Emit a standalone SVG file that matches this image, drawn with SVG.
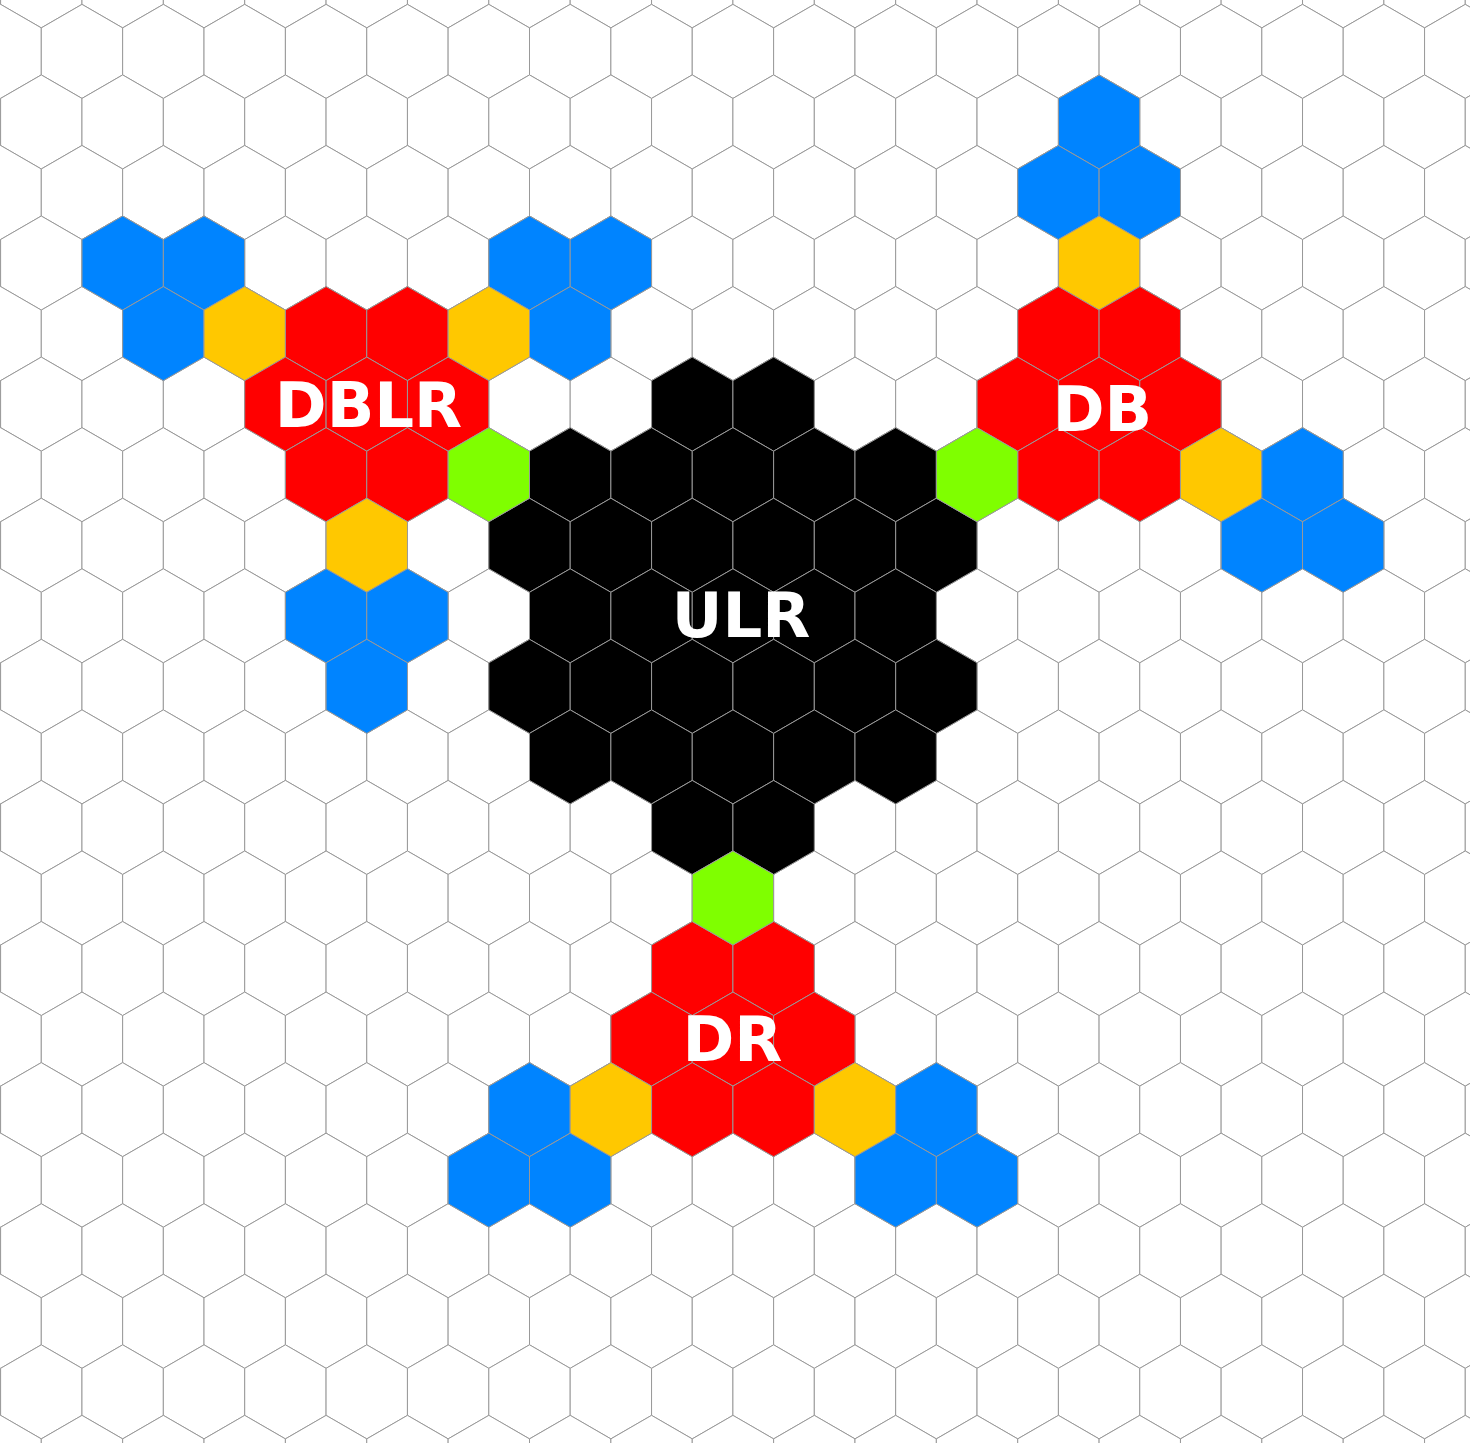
<svg xmlns="http://www.w3.org/2000/svg" xmlns:xlink="http://www.w3.org/1999/xlink" width="1470" height="1443" viewBox="0 0 1470 1443">
<style>
.grid{fill:#ffffff}
use,polygon{stroke:#999999;stroke-width:1}
.bl{fill:#0084ff}
.rd{fill:#ff0000}
.yl{fill:#ffc800}
.gr{fill:#7fff00}
.bk{fill:#000000}
.lbl{font-family:"DejaVu Sans","Liberation Sans",sans-serif;font-weight:bold;font-size:62.5px;fill:#ffffff;text-anchor:middle}
</style>
<defs>
<polygon id="h" points="0,-47.03 40.685,-23.515 40.685,23.515 0,47.03 -40.685,23.515 -40.685,-23.515"/>
<g id="row">
<use href="#h" x="0"/><use href="#h" x="81.37"/><use href="#h" x="162.74"/><use href="#h" x="244.11"/><use href="#h" x="325.48"/><use href="#h" x="406.85"/><use href="#h" x="488.22"/><use href="#h" x="569.59"/><use href="#h" x="650.96"/><use href="#h" x="732.33"/><use href="#h" x="813.7"/><use href="#h" x="895.07"/><use href="#h" x="976.44"/><use href="#h" x="1057.81"/><use href="#h" x="1139.18"/><use href="#h" x="1220.55"/><use href="#h" x="1301.92"/><use href="#h" x="1383.29"/><use href="#h" x="1464.66"/><use href="#h" x="1546.03"/>
</g>
</defs>
<rect width="1470" height="1443" fill="#ffffff"/>
<g id="grid" class="grid">
<use href="#row" transform="translate(-40.085,-19.15)"/>
<use href="#row" transform="translate(0.6,51.4)"/>
<use href="#row" transform="translate(-40.085,121.95)"/>
<use href="#row" transform="translate(0.6,192.5)"/>
<use href="#row" transform="translate(-40.085,263.05)"/>
<use href="#row" transform="translate(0.6,333.6)"/>
<use href="#row" transform="translate(-40.085,404.15)"/>
<use href="#row" transform="translate(0.6,474.7)"/>
<use href="#row" transform="translate(-40.085,545.25)"/>
<use href="#row" transform="translate(0.6,615.8)"/>
<use href="#row" transform="translate(-40.085,686.35)"/>
<use href="#row" transform="translate(0.6,756.9)"/>
<use href="#row" transform="translate(-40.085,827.45)"/>
<use href="#row" transform="translate(0.6,898)"/>
<use href="#row" transform="translate(-40.085,968.55)"/>
<use href="#row" transform="translate(0.6,1039.1)"/>
<use href="#row" transform="translate(-40.085,1109.65)"/>
<use href="#row" transform="translate(0.6,1180.2)"/>
<use href="#row" transform="translate(-40.085,1250.75)"/>
<use href="#row" transform="translate(0.6,1321.3)"/>
<use href="#row" transform="translate(-40.085,1391.85)"/>
<use href="#row" transform="translate(0.6,1462.4)"/>
</g>
<g id="DBLR">
<use href="#h" class="bl" x="122.66" y="263.05"/><use href="#h" class="bl" x="204.03" y="263.05"/>
<use href="#h" class="bl" x="529.51" y="263.05"/><use href="#h" class="bl" x="610.88" y="263.05"/>
<use href="#h" class="bl" x="163.34" y="333.6"/><use href="#h" class="yl" x="244.71" y="333.6"/>
<use href="#h" class="rd" x="326.08" y="333.6"/><use href="#h" class="rd" x="407.45" y="333.6"/>
<use href="#h" class="yl" x="488.82" y="333.6"/><use href="#h" class="bl" x="570.19" y="333.6"/>
<use href="#h" class="rd" x="285.4" y="404.15"/><use href="#h" class="rd" x="366.77" y="404.15"/><use href="#h" class="rd" x="448.14" y="404.15"/>
<use href="#h" class="rd" x="326.08" y="474.7"/><use href="#h" class="rd" x="407.45" y="474.7"/>
<use href="#h" class="yl" x="366.77" y="545.25"/>
<use href="#h" class="bl" x="326.08" y="615.8"/><use href="#h" class="bl" x="407.45" y="615.8"/>
<use href="#h" class="bl" x="366.77" y="686.35"/>
<text class="lbl" x="368.5" y="427">DBLR</text>
</g>
<g id="ULR">
<use href="#h" class="bk" x="692.25" y="404.15"/><use href="#h" class="bk" x="773.62" y="404.15"/>
<use href="#h" class="bk" x="570.19" y="474.7"/><use href="#h" class="bk" x="651.56" y="474.7"/><use href="#h" class="bk" x="732.93" y="474.7"/><use href="#h" class="bk" x="814.3" y="474.7"/><use href="#h" class="bk" x="895.67" y="474.7"/>
<use href="#h" class="bk" x="529.51" y="545.25"/><use href="#h" class="bk" x="610.88" y="545.25"/><use href="#h" class="bk" x="692.25" y="545.25"/><use href="#h" class="bk" x="773.62" y="545.25"/><use href="#h" class="bk" x="854.99" y="545.25"/><use href="#h" class="bk" x="936.36" y="545.25"/>
<use href="#h" class="bk" x="570.19" y="615.8"/><use href="#h" class="bk" x="651.56" y="615.8"/><use href="#h" class="bk" x="732.93" y="615.8"/><use href="#h" class="bk" x="814.3" y="615.8"/><use href="#h" class="bk" x="895.67" y="615.8"/>
<use href="#h" class="bk" x="529.51" y="686.35"/><use href="#h" class="bk" x="610.88" y="686.35"/><use href="#h" class="bk" x="692.25" y="686.35"/><use href="#h" class="bk" x="773.62" y="686.35"/><use href="#h" class="bk" x="854.99" y="686.35"/><use href="#h" class="bk" x="936.36" y="686.35"/>
<use href="#h" class="bk" x="570.19" y="756.9"/><use href="#h" class="bk" x="651.56" y="756.9"/><use href="#h" class="bk" x="732.93" y="756.9"/><use href="#h" class="bk" x="814.3" y="756.9"/><use href="#h" class="bk" x="895.67" y="756.9"/>
<use href="#h" class="bk" x="692.25" y="827.45"/><use href="#h" class="bk" x="773.62" y="827.45"/>
<text class="lbl" x="741" y="637">ULR</text>
</g>
<g id="DB">
<use href="#h" class="bl" x="1099.1" y="121.95"/>
<use href="#h" class="bl" x="1058.41" y="192.5"/><use href="#h" class="bl" x="1139.78" y="192.5"/>
<use href="#h" class="yl" x="1099.1" y="263.05"/>
<use href="#h" class="rd" x="1058.41" y="333.6"/><use href="#h" class="rd" x="1139.78" y="333.6"/>
<use href="#h" class="rd" x="1017.73" y="404.15"/><use href="#h" class="rd" x="1099.1" y="404.15"/><use href="#h" class="rd" x="1180.47" y="404.15"/>
<use href="#h" class="rd" x="1058.41" y="474.7"/><use href="#h" class="rd" x="1139.78" y="474.7"/>
<use href="#h" class="yl" x="1221.15" y="474.7"/><use href="#h" class="bl" x="1302.52" y="474.7"/>
<use href="#h" class="bl" x="1261.84" y="545.25"/><use href="#h" class="bl" x="1343.21" y="545.25"/>
<text class="lbl" x="1102.5" y="431">DB</text>
</g>
<g id="DR">
<use href="#h" class="rd" x="692.25" y="968.55"/><use href="#h" class="rd" x="773.62" y="968.55"/>
<use href="#h" class="rd" x="651.56" y="1039.1"/><use href="#h" class="rd" x="732.93" y="1039.1"/><use href="#h" class="rd" x="814.3" y="1039.1"/>
<use href="#h" class="bl" x="529.51" y="1109.65"/><use href="#h" class="yl" x="610.88" y="1109.65"/>
<use href="#h" class="rd" x="692.25" y="1109.65"/><use href="#h" class="rd" x="773.62" y="1109.65"/>
<use href="#h" class="yl" x="854.99" y="1109.65"/><use href="#h" class="bl" x="936.36" y="1109.65"/>
<use href="#h" class="bl" x="488.82" y="1180.2"/><use href="#h" class="bl" x="570.19" y="1180.2"/>
<use href="#h" class="bl" x="895.67" y="1180.2"/><use href="#h" class="bl" x="977.04" y="1180.2"/>
<text class="lbl" x="732.5" y="1061">DR</text>
</g>
<g id="connectors">
<use href="#h" class="gr" x="488.82" y="474.7"/>
<use href="#h" class="gr" x="977.04" y="474.7"/>
<use href="#h" class="gr" x="732.93" y="898"/>
</g>
</svg>
